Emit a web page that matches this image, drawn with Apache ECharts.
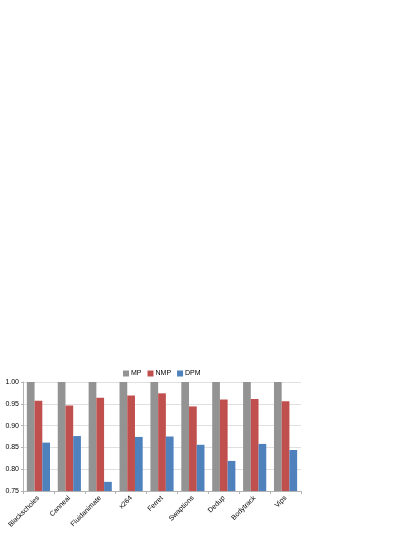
<!DOCTYPE html>
<html><head><meta charset="utf-8">
<script src="https://cdn.jsdelivr.net/npm/echarts@6/dist/echarts.min.js"></script>
<style>html,body{margin:0;padding:0;background:#fff}#c{width:415px;height:537px}</style>
</head><body><div id="c"></div>
<script>
const categories = ['Blackscholes','Canneal','Fluidanimate','x264','Ferret','Swaptions','Dedup','Bodytrack','Vips'];
const mp  = [1.0,1.0,1.0,1.0,1.0,1.0,1.0,1.0,1.0];
const nmp = [0.957,0.946,0.964,0.969,0.974,0.944,0.960,0.961,0.956];
const dpm = [0.861,0.876,0.771,0.874,0.875,0.856,0.819,0.858,0.844];
const yTicks = {min:0.75, max:1.0, interval:0.05};
const chart = echarts.init(document.getElementById('c'), null, {renderer:'canvas'});
const font = 'Liberation Sans';
chart.setOption({
  animation:false,
  legend:{top:365, left:118, itemWidth:6, itemHeight:6, itemGap:6,
    icon:'rect', textStyle:{fontFamily:font, fontSize:7, color:'#000', padding:[0,0,0,-3]}, data:['MP','NMP','DPM']},
  grid:{left:23, right:114, top:382, bottom:46, containLabel:false},
  xAxis:{type:'category', data:categories,
    axisLine:{lineStyle:{color:'#b3b3b3'}},
    axisTick:{show:true, length:3, lineStyle:{color:'#b3b3b3'}},
    axisLabel:{rotate:45, fontFamily:font, fontSize:7, color:'#000', interval:0, margin:6}},
  yAxis:{type:'value', min:yTicks.min, max:yTicks.max, interval:yTicks.interval,
    axisLine:{show:true, lineStyle:{color:'#b3b3b3'}},
    axisTick:{show:true, length:2, lineStyle:{color:'#b3b3b3'}},
    splitLine:{lineStyle:{color:'#e0e0e0'}},
    axisLabel:{fontFamily:font, fontSize:7, color:'#000', margin:4, formatter:v=>v.toFixed(2)}},
  series:[
    {name:'MP', type:'bar', data:mp, itemStyle:{color:'#939393'}, barGap:'0%', barCategoryGap:'25%'},
    {name:'NMP', type:'bar', data:nmp, itemStyle:{color:'#c0504d'}},
    {name:'DPM', type:'bar', data:dpm, itemStyle:{color:'#4f81bd'}}
  ]
});
</script></body></html>
